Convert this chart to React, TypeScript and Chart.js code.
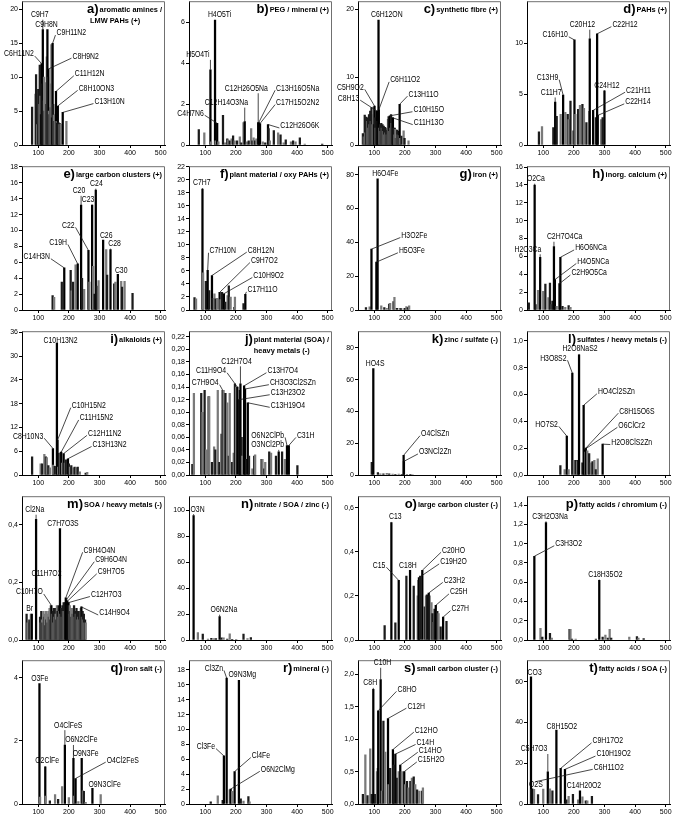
import React, { useEffect, useRef } from 'react';
import { Chart, registerables } from 'chart.js';

Chart.register(...registerables);

const FONT = "'Liberation Sans', Arial, Helvetica, sans-serif";
const X_TICKS = [100, 200, 300, 400, 500];
const X_MIN = 47;
const X_MAX = 514;

// ---------- a) aromatic amines / LMW PAHs (+)
const A_MZ = [80, 91, 93, 97, 100, 103, 105, 107, 109, 111, 113, 115, 117, 119, 121, 123, 126, 128, 130, 132, 133, 135, 137, 139, 141, 143, 145, 147, 149, 151, 153, 155, 158, 160, 162, 164, 166, 168, 170, 173, 180, 192];
const A_INT = [5.6, 7.5, 10.4, 3.0, 8.2, 6.0, 11.8, 7.2, 4.5, 12.0, 9.0, 17.0, 6.5, 10.0, 5.0, 9.2, 6.0, 13.0, 17.0, 10.0, 11.2, 5.0, 4.5, 9.0, 5.5, 14.8, 4.0, 15.0, 6.0, 4.4, 3.5, 4.5, 7.9, 3.5, 3.2, 5.75, 3.3, 3.0, 3.2, 3.1, 4.8, 3.5];
const A_YTICKS = [0, 5, 10, 15, 20];
const A_PEAKS = ['C6H11N2', 'C9H7', 'C9H8N', 'C9H11N2', 'C8H9N2', 'C11H12N', 'C8H10ON3', 'C13H10N'];
const A_PEAK_MZ = [111, 115, 130, 147, 133, 158, 164, 180];

// ---------- b) PEG / mineral (+)
const B_MZ = [79, 97, 117, 119, 132, 134, 139, 143, 158, 165, 172, 175, 180, 186, 191, 196, 204, 213, 218, 225, 229, 236, 242, 250, 254, 258, 263, 267, 273, 275, 279, 288, 296, 305, 307, 311, 324, 338, 346, 356, 363, 380, 387, 395, 409, 425, 482];
const B_INT = [0.75, 0.6, 3.67, 0.15, 6.1, 0.2, 1.06, 0.15, 1.45, 0.1, 0.3, 0.25, 0.2, 0.3, 0.45, 0.2, 0.2, 0.4, 0.1, 1.1, 1.14, 0.15, 0.2, 0.8, 0.2, 0.35, 0.2, 0.3, 1.1, 1.1, 1.05, 0.15, 0.1, 1.0, 0.8, 0.2, 0.7, 0.6, 0.5, 0.1, 0.25, 0.15, 0.2, 0.15, 0.35, 0.05, 0.05];
const B_YTICKS = [0, 2, 4, 6];
const B_PEAKS = ['H4O5Ti', 'H5O4Ti', 'C12H26O5Na', 'C13H16O5Na', 'C12H14O3Na', 'C17H15O2N2', 'C4H7N6', 'C12H26O6K'];
const B_PEAK_MZ = [132, 117, 273, 275, 229, 279, 139, 305];

// ---------- c) synthetic fibre (+)
const C_MZ = [63, 66, 69, 71, 74, 77, 79, 81, 83, 85, 87, 89, 91, 93, 95, 97, 99, 101, 103, 105, 107, 109, 111, 114, 115, 117, 119, 121, 123, 125, 127, 129, 131, 133, 135, 137, 139, 141, 143, 145, 147, 149, 151, 153, 155, 157, 159, 161, 163, 165, 167, 169, 171, 173, 175, 177, 179, 181, 183, 185, 189, 196, 199, 212];
const C_INT = [1.7, 1.2, 4.4, 1.8, 4.1, 3.5, 4.0, 2.5, 4.5, 3.0, 5.0, 3.5, 5.5, 3.0, 4.5, 5.6, 3.0, 5.75, 4.0, 2.5, 5.0, 5.0, 3.5, 18.4, 5.2, 2.5, 3.0, 2.0, 3.2, 2.5, 3.0, 2.0, 2.8, 1.5, 2.6, 1.8, 2.2, 1.5, 2.5, 3.8, 4.2, 2.0, 4.3, 2.5, 4.5, 3.2, 4.0, 4.0, 2.5, 1.5, 2.5, 2.3, 1.0, 1.8, 2.2, 1.5, 2.0, 1.4, 6.0, 1.0, 1.3, 2.1, 1.0, 0.6];
const C_YTICKS = [0, 10, 20];
const C_PEAKS = ['C6H12ON', 'C5H9O2', 'C8H13', 'C6H11O2', 'C13H11O', 'C10H15O', 'C11H13O'];
const C_PEAK_MZ = [114, 101, 109, 115, 183, 151, 161];

// ---------- d) PAHs (+)
const D_MZ = [86, 96, 133, 139, 144, 157, 165, 172, 180, 183, 189, 196, 202, 205, 214, 220, 228, 233, 241, 250, 252, 263, 272, 276, 278, 289, 294, 300];
const D_INT = [1.3, 1.8, 1.7, 4.2, 2.8, 3.0, 4.9, 3.2, 3.0, 2.5, 4.3, 1.4, 10.3, 3.0, 3.5, 3.9, 4.0, 3.6, 2.2, 3.3, 10.4, 3.4, 2.7, 10.9, 2.9, 2.5, 2.7, 5.3];
const D_YTICKS = [0, 5, 10];
const D_PEAKS = ['C20H12', 'C22H12', 'C16H10', 'C13H9', 'C11H7', 'C24H12', 'C21H11', 'C22H14'];
const D_PEAK_MZ = [252, 276, 202, 165, 139, 300, 263, 278];

// ---------- e) large carbon clusters (+)
const E_MZ = [147, 152, 177, 185, 206, 209, 214, 222, 229, 240, 243, 250, 264, 267, 276, 279, 284, 288, 291, 297, 312, 322, 325, 336, 348, 352, 360, 371, 374, 382, 408];
const E_INT = [1.8, 1.6, 3.5, 5.3, 5.0, 2.4, 3.5, 5.7, 5.8, 13.2, 4.0, 2.6, 7.5, 3.5, 13.2, 5.5, 2.0, 15.1, 3.0, 3.7, 8.8, 7.6, 4.4, 7.6, 3.3, 3.5, 4.5, 3.6, 2.9, 3.6, 2.1];
const E_YTICKS = [0, 2, 4, 6, 8, 10, 12, 14, 16, 18];
const E_PEAKS = ['C24', 'C20', 'C23', 'C22', 'C26', 'C28', 'C30', 'C19H', 'C14H3N'];
const E_PEAK_MZ = [288, 240, 276, 264, 312, 336, 360, 229, 185];

// ---------- f) plant material / oxy PAHs (+)
const F_MZ = [65, 70, 91, 93, 102, 108, 113, 122, 124, 130, 134, 139, 147, 150, 155, 161, 166, 173, 177, 183, 195, 197, 225, 231];
const F_INT = [1.9, 1.7, 18.6, 5.7, 4.4, 6.1, 3.0, 5.3, 1.8, 2.5, 1.7, 1.8, 2.7, 1.6, 2.7, 2.5, 1.2, 2.2, 3.7, 2.0, 0.4, 2.0, 1.0, 2.4];
const F_YTICKS = [0, 2, 4, 6, 8, 10, 12, 14, 16, 18, 20, 22];
const F_PEAKS = ['C7H7', 'C7H10N', 'C8H12N', 'C9H7O2', 'C10H9O2', 'C17H11O'];
const F_PEAK_MZ = [91, 108, 122, 147, 161, 231];

// ---------- g) iron (+)
const G_MZ = [73, 85, 91, 107, 111, 123, 133, 141, 149, 152, 163, 166, 174, 183, 187, 196, 201, 205, 210, 214];
const G_INT = [1.5, 1.8, 36, 28.3, 77.6, 2.5, 1.5, 1.0, 3.5, 4.0, 5.0, 7.5, 1.0, 1.0, 0.8, 0.8, 1.0, 2.0, 1.5, 2.5];
const G_YTICKS = [0, 20, 40, 60, 80];
const G_PEAKS = ['H6O4Fe', 'H3O2Fe', 'H5O3Fe'];
const G_PEAK_MZ = [111, 91, 107];

// ---------- h) inorg. calcium (+)
const H_MZ = [53, 72, 75, 83, 90, 100, 107, 117, 122, 128, 130, 135, 138, 144, 153, 156, 163, 172, 183, 189];
const H_INT = [0.8, 14.0, 0.6, 2.2, 5.9, 2.1, 2.9, 1.4, 3.0, 0.6, 1.0, 7.1, 3.4, 0.4, 2.95, 5.9, 0.4, 0.3, 0.5, 0.3];
const H_YTICKS = [0, 2, 4, 6, 8, 10, 12, 14, 16];
const H_PEAKS = ['O2Ca', 'C2H7O4Ca', 'H2O3Ca', 'H6O6NCa', 'H4O5NCa', 'C2H9O5Ca'];
const H_PEAK_MZ = [72, 135, 90, 156, 138, 153];

// ---------- i) alkaloids (+)
const I_MZ = [80, 108, 113, 120, 125, 128, 133, 138, 148, 149, 154, 161, 163, 165, 168, 173, 175, 178, 183, 187, 190, 197, 200, 204, 208, 214, 219, 225, 229, 236, 255, 260];
const I_INT = [4.6, 2.8, 2.8, 5.2, 4.6, 4.4, 2.4, 1.8, 6.7, 2.5, 2.2, 33.3, 8.8, 2.0, 5.5, 5.7, 5.8, 3.0, 5.4, 3.0, 3.8, 4.1, 2.8, 2.0, 2.4, 1.8, 2.0, 1.9, 2.0, 0.8, 0.5, 0.7];
const I_YTICKS = [0, 6, 12, 18, 24, 30, 36];
const I_PEAKS = ['C10H13N2', 'C10H15N2', 'C11H15N2', 'C12H11N2', 'C13H13N2', 'C8H10N3'];
const I_PEAK_MZ = [161, 163, 175, 183, 197, 148];

// ---------- j) plant material (SOA) / heavy metals (-)
const J_MZ = [58, 63, 87, 91, 98, 103, 111, 113, 122, 129, 133, 141, 146, 152, 157, 160, 166, 172, 177, 180, 188, 193, 197, 201, 205, 211, 213, 215, 219, 221, 227, 230, 234, 239, 243, 254, 260, 263, 284, 287, 293, 296, 309, 315, 331, 340, 351, 360, 367, 373, 401];
const J_INT = [0.017, 0.13, 0.13, 0.10, 0.135, 0.04, 0.125, 0.125, 0.02, 0.045, 0.04, 0.135, 0.02, 0.065, 0.135, 0.135, 0.13, 0.115, 0.03, 0.13, 0.02, 0.035, 0.145, 0.14, 0.14, 0.12, 0.135, 0.145, 0.06, 0.03, 0.142, 0.137, 0.025, 0.115, 0.03, 0.01, 0.03, 0.032, 0.025, 0.025, 0.01, 0.02, 0.037, 0.035, 0.03, 0.037, 0.037, 0.025, 0.047, 0.047, 0.015];
const J_YTICKS = [0, 0.02, 0.04, 0.06, 0.08, 0.1, 0.12, 0.14, 0.16, 0.18, 0.2, 0.22];
const J_PEAKS = ['C12H7O4', 'C11H9O4', 'C13H7O4', 'C7H9O4', 'CH3O3Cl2SZn', 'C13H23O2', 'C13H19O4', 'O6N2ClPb', 'C31H', 'O3NCl2Pb'];
const J_PEAK_MZ = [215, 205, 227, 157, 230, 211, 239, 367, 373, 340];

// ---------- k) zinc / sulfate (-)
const K_MZ = [92, 97, 112, 120, 130, 141, 149, 160, 169, 180, 190, 196, 197, 207, 218, 225];
const K_INT = [8, 67, 1.5, 0.7, 0.8, 1.0, 0.8, 0.6, 0.5, 0.6, 0.5, 12.4, 8.6, 0.4, 0.5, 0.3];
const K_YTICKS = [0, 20, 40, 60, 80];
const K_PEAKS = ['HO4S', 'O4ClSZn', 'O3NCl2Zn'];
const K_PEAK_MZ = [97, 196, 197];

// ---------- l) sulfates / heavy metals (-)
const L_MZ = [156, 170, 177, 183, 195, 200, 206, 211, 214, 217, 228, 232, 235, 237, 239, 244, 250, 256, 261, 267, 272, 278, 294];
const L_INT = [0.07, 0.04, 0.29, 0.04, 0.76, 0.11, 0.11, 0.1, 0.11, 0.895, 0.09, 0.52, 0.19, 0.17, 0.2, 0.18, 0.16, 0.09, 0.1, 0.11, 0.04, 0.12, 0.23];
const L_YTICKS = [0, 0.2, 0.4, 0.6, 0.8, 1.0];
const L_PEAKS = ['H2O8NaS2', 'H3O8S2', 'HO4Cl2SZn', 'HO7S2', 'C8H15O6S', 'O6ClCr2', 'H2O8ClS2Zn'];
const L_PEAK_MZ = [217, 195, 232, 177, 239, 235, 294];

// ---------- m) SOA / heavy metals (-)
const M_MZ = [62, 65, 71, 76, 79, 93, 106, 108, 110, 112, 114, 117, 119, 121, 123, 125, 127, 129, 131, 133, 135, 137, 139, 141, 143, 145, 147, 149, 151, 153, 155, 157, 159, 161, 163, 165, 167, 169, 171, 173, 175, 177, 179, 181, 183, 185, 187, 190, 192, 195, 197, 199, 201, 203, 205, 207, 209, 211, 213, 215, 217, 219, 221, 223, 225, 227, 229, 231, 233, 235, 237, 239, 241, 243, 245, 247, 249, 251, 253, 255];
const M_INT = [0.09, 0.06, 0.07, 0.09, 0.09, 0.42, 0.08, 0.06, 0.1, 0.07, 0.06, 0.1, 0.08, 0.09, 0.05, 0.1, 0.07, 0.09, 0.06, 0.1, 0.08, 0.11, 0.07, 0.12, 0.12, 0.09, 0.1, 0.06, 0.11, 0.08, 0.11, 0.09, 0.07, 0.12, 0.1, 0.08, 0.12, 0.1, 0.387, 0.09, 0.11, 0.08, 0.12, 0.1, 0.13, 0.1, 0.13, 0.147, 0.14, 0.135, 0.12, 0.13, 0.09, 0.12, 0.1, 0.11, 0.08, 0.11, 0.09, 0.1, 0.12, 0.08, 0.1, 0.09, 0.11, 0.07, 0.1, 0.08, 0.1, 0.07, 0.09, 0.11, 0.115, 0.08, 0.1, 0.07, 0.09, 0.06, 0.07, 0.06];
const M_YTICKS = [0, 0.2, 0.4];
const M_PEAKS = ['Cl2Na', 'C7H7O3S', 'C9H4O4N', 'C9H6O4N', 'C9H7O5', 'C11H7O2', 'C12H7O3', 'C10H7O', 'Br', 'C14H9O4'];
const M_PEAK_MZ = [93, 171, 190, 192, 195, 171, 199, 143, 79, 241];

// ---------- n) nitrate / SOA / zinc (-)
const N_MZ = [62, 76, 92, 109, 120, 128, 135, 147, 153, 160, 172, 180, 188, 201, 225, 238, 249];
const N_INT = [96, 5.8, 4.5, 0.8, 1.3, 1.0, 1.0, 18, 1.7, 1.6, 0.7, 4.7, 0.5, 0.6, 4.5, 1.0, 1.8];
const N_YTICKS = [0, 20, 40, 60, 80, 100];
const N_PEAKS = ['O3N', 'O6N2Na'];
const N_PEAK_MZ = [62, 147];

// ---------- o) large carbon cluster (-)
const O_MZ = [134, 156, 169, 180, 205, 217, 229, 242, 245, 246, 250, 257, 265, 269, 272, 278, 280, 287, 290, 294, 297, 301, 306, 310, 317, 325, 336];
const O_INT = [0.065, 0.532, 0.078, 0.27, 0.29, 0.316, 0.245, 0.2, 0.27, 0.283, 0.29, 0.316, 0.15, 0.2, 0.205, 0.213, 0.2, 0.17, 0.12, 0.08, 0.14, 0.157, 0.13, 0.12, 0.06, 0.104, 0.085];
const O_YTICKS = [0, 0.2, 0.4, 0.6];
const O_PEAKS = ['C13', 'C15', 'C18H', 'C20HO', 'C19H2O', 'C23H2', 'C25H', 'C27H'];
const O_PEAK_MZ = [156, 180, 217, 257, 246, 278, 301, 325];

// ---------- p) fatty acids / chromium (-)
const P_MZ = [71, 91, 97, 109, 122, 128, 186, 189, 194, 206, 272, 283, 294, 303, 311, 317, 322, 381, 406, 411, 428];
const P_INT = [0.87, 0.12, 0.03, 1.22, 0.07, 0.02, 0.11, 0.11, 0.01, 0.01, 0.01, 0.62, 0.03, 0.05, 0.02, 0.11, 0.02, 0.03, 0.035, 0.02, 0.015];
const P_YTICKS = [0, 0.2, 0.4, 0.6, 0.8, 1.0, 1.2, 1.4];
const P_PEAKS = ['C3H2O3Na', 'C3H3O2', 'C18H35O2'];
const P_PEAK_MZ = [109, 71, 283];

// ---------- q) iron salt (-)
const Q_MZ = [104, 106, 123, 124, 138, 155, 165, 178, 187, 200, 215, 216, 222, 231, 242, 246, 249, 255, 277, 304];
const Q_INT = [3.82, 0.22, 1.18, 0.25, 0.1, 0.3, 0.15, 0.55, 1.87, 0.2, 1.45, 0.25, 0.81, 0.08, 1.45, 0.42, 0.4, 0.05, 0.5, 0.3];
const Q_YTICKS = [0, 2, 4];
const Q_PEAKS = ['O3Fe', 'O4ClFeS', 'O6N2ClFe', 'O2ClFe', 'O9N3Fe', 'O4Cl2FeS', 'O9N3ClFe'];
const Q_PEAK_MZ = [104, 187, 215, 123, 242, 222, 277];

// ---------- r) mineral (-)
const R_MZ = [118, 141, 157, 161, 170, 180, 183, 188, 196, 210, 216, 225, 241, 245];
const R_INT = [0.3, 1.1, 0.5, 6.45, 16.9, 1.9, 2.0, 1.7, 4.35, 16.6, 0.7, 0.4, 1.0, 0.3];
const R_YTICKS = [0, 2, 4, 6, 8, 10, 12, 14, 16, 18];
const R_PEAKS = ['Cl3Zn', 'O9N3Mg', 'Cl3Fe', 'Cl4Fe', 'O6N2ClMg'];
const R_PEAK_MZ = [170, 210, 161, 196, 183];

// ---------- s) small carbon cluster (-)
const S_MZ = [63, 71, 78, 87, 92, 97, 103, 109, 112, 113, 121, 125, 130, 136, 145, 147, 152, 161, 163, 169, 174, 180, 185, 190, 198, 201, 207, 212, 218, 223, 229, 234, 240, 247, 256, 259];
const S_INT = [0.15, 0.76, 0.13, 0.85, 0.15, 1.77, 0.15, 0.5, 0.55, 1.44, 1.92, 0.2, 1.28, 0.8, 1.32, 0.3, 0.55, 0.84, 0.6, 0.77, 0.4, 0.5, 0.6, 0.5, 0.5, 0.3, 0.35, 0.25, 0.35, 0.4, 0.42, 0.3, 0.22, 0.2, 0.2, 0.25];
const S_YTICKS = [0, 0.5, 1.0, 1.5, 2.0];
const S_PEAKS = ['C10H', 'C8H', 'C8HO', 'C12H', 'C12HO', 'C14H', 'C14HO', 'C15H2O'];
const S_PEAK_MZ = [121, 97, 113, 145, 161, 169, 185, 198];

// ---------- t) fatty acids / SOA (-)
const T_MZ = [60, 63, 64, 70, 83, 100, 115, 122, 130, 143, 157, 171, 176, 183, 197, 214, 220, 228, 239, 244, 259];
const T_INT = [62.4, 7.2, 7.5, 7.2, 4.6, 7.3, 15.8, 7.5, 6.5, 36.3, 17.5, 17, 2, 3.8, 4.8, 2, 6.5, 3.5, 1.5, 1.5, 3.8];
const T_YTICKS = [0, 20, 40, 60];
const T_PEAKS = ['CO3', 'C8H15O2', 'C5H7O3', 'C9H17O2', 'C10H19O2', 'C6H11O2', 'O2S', 'C14H20O2'];
const T_PEAK_MZ = [60, 143, 115, 157, 171, 115, 64, 220];

// ---------- layout (label anchors in axis units: [m/z, value, optional target value, optional target m/z])
const A_LAB = [[37, 13.4], [105, 19.2], [127, 17.7], [208, 16.5], [255, 13.1], [268, 10.5], [290, 8.35], [333, 6.4]];
const B_LAB = [[147, 6.36], [76, 4.4], [234, 2.77], [402, 2.77], [169, 2.07], [402, 2.07], [52, 1.55], [409, 0.93]];
const C_LAB = [[141, 19.2], [22, 8.5], [16, 6.9], [201, 9.6], [261, 7.5], [278, 5.2], [278, 3.3]];
const D_LAB = [[228, 11.8], [367, 11.8], [139, 10.8], [114, 6.6], [126, 5.15], [308, 5.86], [411, 5.37], [409, 4.23]];
const E_LAB = [[290, 15.9], [233, 15.0], [263, 13.9], [198, 10.65], [322, 9.4], [349, 8.35], [371, 5.0], [165, 8.5], [95, 6.7]];
const F_LAB = [[89, 19.5], [157, 9.1], [282, 9.2], [293, 7.6], [307, 5.3], [287, 3.1]];
const G_LAB = [[136, 80.5], [231, 44], [223, 35]];
const H_LAB = [[76, 14.7], [170, 8.2], [50, 6.8], [256, 6.95], [263, 5.43], [250, 4.14]];
const I_LAB = [[173, 34], [265, 17.5], [290, 14.4], [317, 10.5], [333, 7.7], [67, 9.8]];
const J_LAB = [[202, 0.181], [119, 0.166], [353, 0.166], [100, 0.147], [386, 0.147], [370, 0.131], [370, 0.111], [304, 0.063], [428, 0.063], [304, 0.048]];
const K_LAB = [[103, 70], [299, 26], [299, 14.5]];
const L_LAB = [[220, 0.94], [133, 0.87], [339, 0.62], [111, 0.377], [406, 0.476], [389, 0.37], [389, 0.242]];
const M_LAB = [[89, 0.453], [181, 0.405], [300, 0.312], [338, 0.279], [338, 0.237], [127, 0.231, 0.126], [322, 0.158], [71, 0.167], [72, 0.108], [349, 0.094]];
const N_LAB = [[75, 101], [161, 23.4]];
const O_LAB = [[169, 0.558], [116, 0.339], [210, 0.339], [359, 0.407], [359, 0.354], [362, 0.27], [376, 0.218], [381, 0.142]];
const P_LAB = [[122, 1.285], [183, 1.0], [303, 0.68]];
const Q_LAB = [[105, 3.98], [198, 2.5], [241, 2.03], [129, 1.36], [255, 1.6], [376, 1.39], [317, 0.63]];
const R_LAB = [[128, 18.2], [221, 17.3], [102, 7.7], [282, 6.5], [337, 4.65]];
const S_LAB = [[127, 2.18], [87, 1.87], [207, 1.77], [237, 1.51], [270, 1.14], [267, 0.95], [283, 0.83], [286, 0.68]];
const T_LAB = [[72, 64.5], [161, 37.9], [70, 27], [311, 31], [330, 24.5], [314, 18, 11, 76], [76, 9.3], [233, 8.8]];

type PanelCfg = {
  id: string; mz: number[]; val: number[]; yMax: number; yTicks: number[]; dec: number;
  title: string[]; peaks: string[]; peakMz: number[]; lab: number[][];
};

const PANELS: PanelCfg[] = [
  { id: 'a', mz: A_MZ, val: A_INT, yMax: 21.2, yTicks: A_YTICKS, dec: 0, title: ['a)', 'aromatic amines /', 'LMW PAHs (+)'], peaks: A_PEAKS, peakMz: A_PEAK_MZ, lab: A_LAB },
  { id: 'b', mz: B_MZ, val: B_INT, yMax: 7.02, yTicks: B_YTICKS, dec: 0, title: ['b)', 'PEG / mineral (+)'], peaks: B_PEAKS, peakMz: B_PEAK_MZ, lab: B_LAB },
  { id: 'c', mz: C_MZ, val: C_INT, yMax: 21.2, yTicks: C_YTICKS, dec: 0, title: ['c)', 'synthetic fibre (+)'], peaks: C_PEAKS, peakMz: C_PEAK_MZ, lab: C_LAB },
  { id: 'd', mz: D_MZ, val: D_INT, yMax: 14.1, yTicks: D_YTICKS, dec: 0, title: ['d)', 'PAHs (+)'], peaks: D_PEAKS, peakMz: D_PEAK_MZ, lab: D_LAB },
  { id: 'e', mz: E_MZ, val: E_INT, yMax: 18.1, yTicks: E_YTICKS, dec: 0, title: ['e)', 'large carbon clusters (+)'], peaks: E_PEAKS, peakMz: E_PEAK_MZ, lab: E_LAB },
  { id: 'f', mz: F_MZ, val: F_INT, yMax: 22.1, yTicks: F_YTICKS, dec: 0, title: ['f)', 'plant material / oxy PAHs (+)'], peaks: F_PEAKS, peakMz: F_PEAK_MZ, lab: F_LAB },
  { id: 'g', mz: G_MZ, val: G_INT, yMax: 85, yTicks: G_YTICKS, dec: 0, title: ['g)', 'iron (+)'], peaks: G_PEAKS, peakMz: G_PEAK_MZ, lab: G_LAB },
  { id: 'h', mz: H_MZ, val: H_INT, yMax: 16.1, yTicks: H_YTICKS, dec: 0, title: ['h)', 'inorg. calcium (+)'], peaks: H_PEAKS, peakMz: H_PEAK_MZ, lab: H_LAB },
  { id: 'i', mz: I_MZ, val: I_INT, yMax: 36.3, yTicks: I_YTICKS, dec: 0, title: ['i)', 'alkaloids (+)'], peaks: I_PEAKS, peakMz: I_PEAK_MZ, lab: I_LAB },
  { id: 'j', mz: J_MZ, val: J_INT, yMax: 0.229, yTicks: J_YTICKS, dec: 2, title: ['j)', 'plant material (SOA) /', 'heavy metals (-)'], peaks: J_PEAKS, peakMz: J_PEAK_MZ, lab: J_LAB },
  { id: 'k', mz: K_MZ, val: K_INT, yMax: 90.5, yTicks: K_YTICKS, dec: 0, title: ['k)', 'zinc / sulfate (-)'], peaks: K_PEAKS, peakMz: K_PEAK_MZ, lab: K_LAB },
  { id: 'l', mz: L_MZ, val: L_INT, yMax: 1.072, yTicks: L_YTICKS, dec: 1, title: ['l)', 'sulfates / heavy metals (-)'], peaks: L_PEAKS, peakMz: L_PEAK_MZ, lab: L_LAB },
  { id: 'm', mz: M_MZ, val: M_INT, yMax: 0.5, yTicks: M_YTICKS, dec: 1, title: ['m)', 'SOA / heavy metals (-)'], peaks: M_PEAKS, peakMz: M_PEAK_MZ, lab: M_LAB },
  { id: 'n', mz: N_MZ, val: N_INT, yMax: 111, yTicks: N_YTICKS, dec: 0, title: ['n)', 'nitrate / SOA / zinc (-)'], peaks: N_PEAKS, peakMz: N_PEAK_MZ, lab: N_LAB },
  { id: 'o', mz: O_MZ, val: O_INT, yMax: 0.652, yTicks: O_YTICKS, dec: 1, title: ['o)', 'large carbon cluster (-)'], peaks: O_PEAKS, peakMz: O_PEAK_MZ, lab: O_LAB },
  { id: 'p', mz: P_MZ, val: P_INT, yMax: 1.494, yTicks: P_YTICKS, dec: 1, title: ['p)', 'fatty acids / chromium (-)'], peaks: P_PEAKS, peakMz: P_PEAK_MZ, lab: P_LAB },
  { id: 'q', mz: Q_MZ, val: Q_INT, yMax: 4.56, yTicks: Q_YTICKS, dec: 0, title: ['q)', 'iron salt (-)'], peaks: Q_PEAKS, peakMz: Q_PEAK_MZ, lab: Q_LAB },
  { id: 'r', mz: R_MZ, val: R_INT, yMax: 19.3, yTicks: R_YTICKS, dec: 0, title: ['r)', 'mineral (-)'], peaks: R_PEAKS, peakMz: R_PEAK_MZ, lab: R_LAB },
  { id: 's', mz: S_MZ, val: S_INT, yMax: 2.22, yTicks: S_YTICKS, dec: 1, title: ['s)', 'small carbon cluster (-)'], peaks: S_PEAKS, peakMz: S_PEAK_MZ, lab: S_LAB },
  { id: 't', mz: T_MZ, val: T_INT, yMax: 70.6, yTicks: T_YTICKS, dec: 0, title: ['t)', 'fatty acids / SOA (-)'], peaks: T_PEAKS, peakMz: T_PEAK_MZ, lab: T_LAB },
];

const COL_LEFT = [22, 189, 358, 527];
const ROW_BOTTOM = [145, 310, 475, 640, 804];
const PLOT_W = 143;
const PLOT_H = 144;
const Y_AXIS_W = 22;
const X_AXIS_H = 16;
const PAD_TOP = 5;
const PAD_RIGHT = 12;
const CANVAS_W = Y_AXIS_W + PLOT_W + PAD_RIGHT;
const CANVAS_H = PAD_TOP + PLOT_H + X_AXIS_H;
const LABEL_SQUEEZE = 0.8;

function fmt(v: number, dec: number) {
  return dec > 0 ? v.toFixed(dec).replace('.', ',') : String(Math.round(v));
}

function PanelChart({ p, col, row }: { p: PanelCfg; col: number; row: number }) {
  const ref = useRef<HTMLCanvasElement>(null);
  useEffect(() => {
    const canvas = ref.current;
    if (!canvas) return;
    const peakSet = new Set(p.peakMz);
    const colors = p.mz.map((m, i) => (peakSet.has(m) ? '#000000' : i % 2 ? '#7a7a7a' : '#1c1c1c'));
    const annPlugin = {
      id: 'ann_' + p.id,
      afterDatasetsDraw(chart: any) {
        const { ctx, chartArea: ca, scales } = chart;
        const xs = scales.x;
        const ys = scales.y;
        ctx.save();
        // frame (top + right)
        ctx.strokeStyle = '#707070';
        ctx.lineWidth = 1;
        ctx.beginPath();
        ctx.moveTo(ca.left, ca.top + 0.5);
        ctx.lineTo(ca.right - 0.5, ca.top + 0.5);
        ctx.lineTo(ca.right - 0.5, ca.bottom);
        ctx.stroke();

        // peak labels + leaders
        ctx.font = `8.6px ${FONT}`;
        ctx.fillStyle = '#000';
        ctx.textAlign = 'center';
        ctx.textBaseline = 'middle';
        p.peaks.forEach((name, k) => {
          const at = p.lab[k];
          if (!at) return;
          const tm = at[3] !== undefined ? at[3] : p.peakMz[k];
          let tv = at[2];
          if (tv === undefined) {
            const idx = p.mz.indexOf(p.peakMz[k]);
            tv = idx >= 0 ? p.val[idx] : 0;
          }
          const bx = xs.getPixelForValue(tm);
          const by = ys.getPixelForValue(tv);
          const lx = xs.getPixelForValue(at[0]);
          const ly = ys.getPixelForValue(at[1]);
          const w = ctx.measureText(name).width * LABEL_SQUEEZE;
          ctx.save();
          ctx.translate(lx, ly);
          ctx.scale(LABEL_SQUEEZE, 1);
          ctx.fillText(name, 0, 0);
          ctx.restore();
          const l = lx - w / 2;
          const r = lx + w / 2;
          let sx: number;
          let sy: number;
          if (bx < l - 1) { sx = l - 1; sy = ly + 2; }
          else if (bx > r + 1) { sx = r + 1; sy = ly + 2; }
          else { sx = bx; sy = ly + 5; }
          const vertical = sx === bx;
          if (vertical && by <= sy + 0.5) return;
          ctx.strokeStyle = '#1a1a1a';
          ctx.lineWidth = 0.8;
          ctx.beginPath();
          ctx.moveTo(sx, sy);
          ctx.lineTo(bx, by);
          ctx.stroke();
        });

        // title
        const right = ca.right - 3;
        ctx.textBaseline = 'alphabetic';
        ctx.textAlign = 'right';
        ctx.font = `bold 7.4px ${FONT}`;
        const w1 = ctx.measureText(p.title[1]).width;
        ctx.fillText(p.title[1], right, ca.top + 11);
        ctx.font = `bold 13px ${FONT}`;
        const lw = ctx.measureText(p.title[0]).width;
        ctx.fillText(p.title[0], right - w1 - 1, ca.top + 12);
        if (p.title[2]) {
          ctx.font = `bold 7.4px ${FONT}`;
          ctx.textAlign = 'left';
          const x2 = p.id === 'a' ? right - w1 - 1 - lw + 3 : right - w1;
          ctx.fillText(p.title[2], x2, ca.top + 22);
        }
        ctx.restore();
      },
    };

    const tickFont = { size: 7, family: FONT };
    const chart = new Chart(canvas, {
      type: 'bar',
      data: {
        datasets: [
          {
            data: p.mz.map((m, i) => ({ x: m, y: p.val[i] })),
            backgroundColor: colors,
            borderWidth: 0,
            barThickness: 1.6,
          } as any,
        ],
      },
      options: {
        responsive: false,
        animation: false,
        events: [],
        layout: { padding: { left: 0, top: PAD_TOP, right: PAD_RIGHT, bottom: 0 } },
        plugins: { legend: { display: false }, tooltip: { enabled: false } },
        scales: {
          x: {
            type: 'linear',
            min: X_MIN,
            max: X_MAX,
            offset: false,
            afterBuildTicks: (s: any) => { s.ticks = X_TICKS.map((v) => ({ value: v })); },
            afterFit: (s: any) => { s.height = X_AXIS_H; },
            ticks: { font: tickFont, color: '#000', padding: 1, maxRotation: 0, autoSkip: false, callback: (v: any) => String(v) },
            grid: { display: true, drawOnChartArea: false, drawTicks: true, tickLength: 3, color: '#000', lineWidth: 1, offset: false },
            border: { display: true, color: '#000', width: 1 },
          },
          y: {
            type: 'linear',
            min: 0,
            max: p.yMax,
            afterBuildTicks: (s: any) => { s.ticks = p.yTicks.map((v) => ({ value: v })); },
            afterFit: (s: any) => { s.width = Y_AXIS_W; },
            ticks: { font: tickFont, color: '#000', padding: 1, autoSkip: false, callback: (v: any) => fmt(Number(v), p.dec) },
            grid: { display: true, drawOnChartArea: false, drawTicks: true, tickLength: 3, color: '#000', lineWidth: 1 },
            border: { display: true, color: '#000', width: 1 },
          },
        },
      } as any,
      plugins: [annPlugin],
    });
    return () => chart.destroy();
  }, [p]);

  const left = COL_LEFT[col] - Y_AXIS_W;
  const top = ROW_BOTTOM[row] - PLOT_H - PAD_TOP;
  return (
    <canvas
      ref={ref}
      width={CANVAS_W}
      height={CANVAS_H}
      style={{ position: 'absolute', left, top, width: CANVAS_W, height: CANVAS_H }}
    />
  );
}

export default function App() {
  return (
    <div
      style={{
        position: 'absolute',
        left: 0,
        top: 0,
        width: 676,
        height: 815,
        background: '#fff',
        overflow: 'hidden',
      }}
    >
      {PANELS.map((p, i) => (
        <PanelChart key={p.id} p={p} col={i % 4} row={Math.floor(i / 4)} />
      ))}
    </div>
  );
}
